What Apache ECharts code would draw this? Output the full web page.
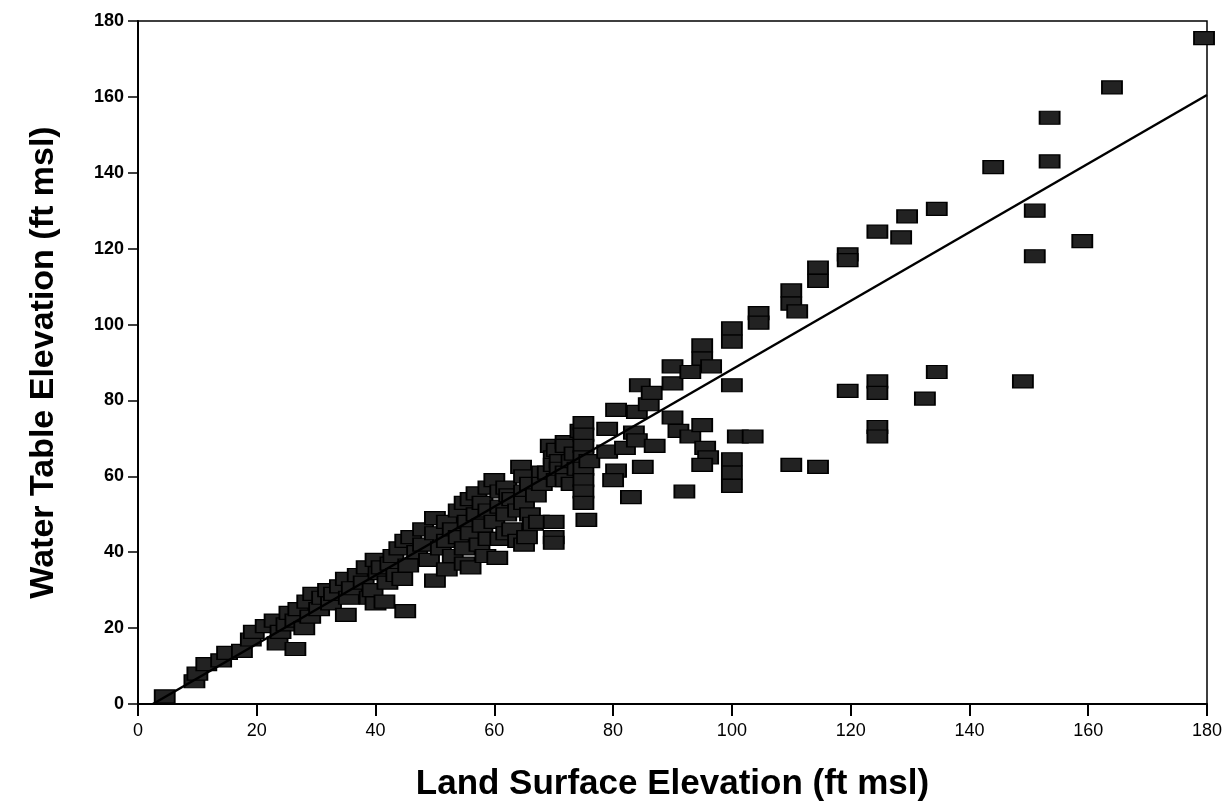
<!DOCTYPE html>
<html>
<head>
<meta charset="utf-8">
<script src="https://cdn.jsdelivr.net/npm/echarts@6/dist/echarts.min.js"></script>
<style>
  html, body { margin: 0; padding: 0; background: #fff; }
  #chart { width: 1231px; height: 809px; }
</style>
</head>
<body>
<div id="chart"></div>
<script>
// Land surface elevation (x) and water table elevation (y), ft msl
const landSurface = [
  4.5, 9.5, 10, 11.5, 14, 15, 17.5, 19, 19.5, 21.5, 23, 23.5, 24, 25, 25.5, 26.5, 26.5, 27, 28, 28.5,
  29, 29.5, 30.5, 31, 32, 32.5, 33, 34, 35, 35, 35.5, 36, 37, 38, 38.5, 39, 39.5, 40, 40.5, 40,
  41, 42, 42.5, 43, 43.5, 44, 45, 44.5, 45, 45.5, 41.5,
  46, 47, 48, 48, 49, 50, 50, 50, 51, 52, 52, 52, 53, 53, 54, 54, 55, 55, 55, 55.5,
  56, 56, 56, 57, 57, 57.5, 58, 58, 58.5, 59, 59, 59, 60, 60, 60.5, 61, 61, 61, 62, 62,
  62, 62.5, 63, 63, 64, 64, 64.5, 65, 65, 65, 65, 65.5, 66, 66, 66.5, 67, 67.5, 68, 68, 69,
  69.5, 70, 70, 70, 70, 70, 70.5, 70.5, 71, 71, 72, 72, 72, 72, 73, 73, 73.5, 74, 74.5, 75,
  75, 75, 75, 75, 75, 75, 75, 75.5, 76,
  79, 79, 80.5, 80.5, 80, 82, 83, 83.5, 84, 84, 84.5, 85, 86, 86.5, 87, 90, 90, 90, 91, 92,
  93, 93, 95, 95, 95, 95.5, 96, 95, 96.5, 100, 100, 100, 100, 100, 100, 101, 103.5, 104.5, 104.5, 110,
  110, 111, 110, 114.5, 114.5, 114.5, 119.5, 119.5, 119.5, 124.5, 124.5, 124.5, 124.5, 124.5, 128.5, 129.5, 132.5, 134.5, 134.5, 144,
  149, 151, 151, 153.5, 153.5, 159, 164, 179.5
];
const waterTable = [
  2, 6, 8, 10.5, 11.5, 13.5, 14, 17, 19, 20.5, 22, 16, 19, 21, 24, 14.5, 22, 25, 20, 27,
  23, 29, 25, 28, 30, 26.5, 29, 31, 23.5, 33, 28, 30.5, 34, 32, 36, 28, 30, 38, 34.5, 26.5,
  36, 32, 37, 39, 34, 41, 24.5, 33, 43, 36.5, 27,
  44, 40, 46, 42, 38, 49, 45, 32.5, 41, 48, 43, 35.5, 39, 46, 51, 44, 53, 41, 37, 48,
  54, 45, 36, 55.5, 50, 42, 53, 47, 39, 57, 51, 43.5, 59, 48, 38.5, 56, 52, 43.5, 57, 50,
  45, 55, 54, 46, 51, 43, 62.5, 60, 56, 53, 42, 44, 58, 50, 47.5, 55, 48, 61, 58, 61,
  68, 65, 63, 48, 44, 42.5, 67, 59, 64, 62, 69, 68, 61, 59, 64, 58, 66, 62, 72, 74,
  71, 68, 65, 62, 59, 56, 53, 48.5, 64,
  72.5, 66.5, 77.5, 61.5, 59, 67.5, 54.5, 71.5, 69.5, 77, 84, 62.5, 79, 82, 68, 89, 84.5, 75.5, 72, 56,
  87.5, 70.5, 94.5, 91, 73.5, 67.5, 65, 63, 89, 99, 95.5, 84, 64.5, 61, 57.5, 70.5, 70.5, 103, 100.5, 109,
  105.5, 103.5, 63, 115, 111.5, 62.5, 118.5, 117, 82.5, 124.5, 85, 82, 73, 70.5, 123, 128.5, 80.5, 130.5, 87.5, 141.5,
  85, 130, 118, 154.5, 143, 122, 162.5, 175.5
];
// Fitted line end points
const fitX = [2.5, 180];
const fitY = [0, 160.5];
// Axis ticks
const xTicks = [0, 20, 40, 60, 80, 100, 120, 140, 160, 180];
const yTicks = [0, 20, 40, 60, 80, 100, 120, 140, 160, 180];

const points = landSurface.map((x, i) => [x, waterTable[i]]);
const fitLine = fitX.map((x, i) => [x, fitY[i]]);

const chart = echarts.init(document.getElementById('chart'), null, { renderer: 'canvas' });
const fontFam = '"Liberation Sans", Arial, Helvetica, sans-serif';
chart.setOption({
  animation: false,
  backgroundColor: '#ffffff',
  grid: {
    left: 138, right: 24, top: 21, bottom: 105,
    show: true, borderColor: '#000', borderWidth: 1.5, backgroundColor: 'transparent'
  },
  xAxis: {
    type: 'value', min: xTicks[0], max: xTicks[xTicks.length - 1], interval: 20,
    name: 'Land Surface Elevation (ft msl)', nameLocation: 'middle', nameGap: 63,
    nameTextStyle: { fontFamily: fontFam, fontSize: 35, fontWeight: 'bold', color: '#000' },
    axisLine: { show: true, lineStyle: { color: '#000', width: 2 } },
    axisTick: { show: true, inside: false, length: 12, lineStyle: { color: '#000', width: 2 } },
    axisLabel: { fontFamily: fontFam, fontSize: 18, color: '#000', margin: 18 },
    splitLine: { show: false }
  },
  yAxis: {
    type: 'value', min: yTicks[0], max: yTicks[yTicks.length - 1], interval: 20,
    name: 'Water Table Elevation (ft msl)', nameLocation: 'middle', nameGap: 77, nameRotate: 90,
    nameTextStyle: { fontFamily: fontFam, fontSize: 34, fontWeight: 'bold', color: '#000' },
    axisLine: { show: true, lineStyle: { color: '#000', width: 2 } },
    axisTick: { show: true, inside: false, length: 10, lineStyle: { color: '#000', width: 1.5 } },
    axisLabel: { fontFamily: fontFam, fontSize: 18, fontWeight: 'bold', color: '#000', margin: 14 },
    splitLine: { show: false }
  },
  series: [
    {
      type: 'scatter',
      data: points,
      symbol: 'rect',
      symbolSize: [20, 13],
      itemStyle: { color: '#222222', borderColor: '#000', borderWidth: 1.5, opacity: 1 },
      z: 2
    },
    {
      type: 'line',
      data: fitLine,
      showSymbol: false,
      symbol: 'none',
      lineStyle: { color: '#000', width: 2.5 },
      z: 3
    }
  ]
});
</script>
</body>
</html>
